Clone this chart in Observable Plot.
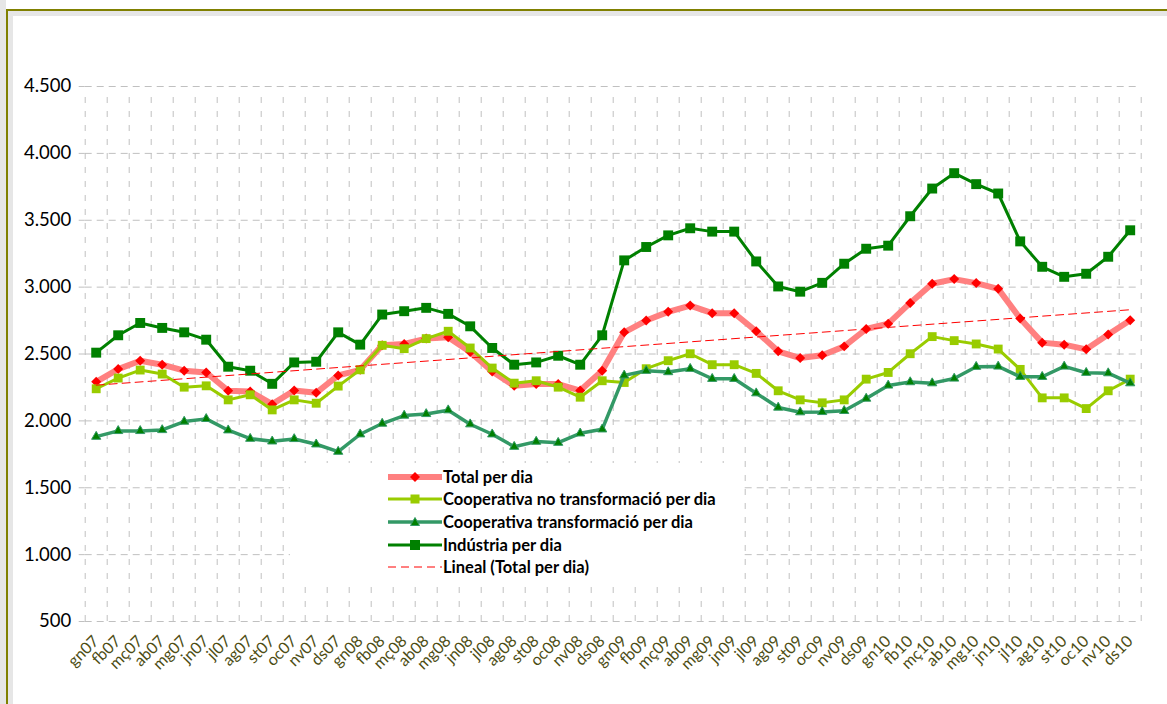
<!DOCTYPE html>
<html>
<head>
<meta charset="utf-8">
<script src="https://cdn.jsdelivr.net/npm/d3@7"></script>
<script src="https://cdn.jsdelivr.net/npm/@observablehq/plot@0.6"></script>
<style>
  body { margin: 0; background: #fff; }
  #wrap { position: relative; width: 1167px; height: 704px; overflow: hidden; background: #fff; font-family: Lato, "Noto Sans", sans-serif; }
  #chart { position: absolute; left: 0; top: 0; }
  .deco { position: absolute; z-index: 3; }
  #legend { position: absolute; left: 290px; top: 463px; width: 450px; height: 122px; background: #fff; z-index: 2; }
  .row { position: absolute; left: 98px; height: 22px; display: flex; align-items: center; white-space: nowrap; }
  .row span { font-weight: bold; font-size: 16.5px; color: #000; margin-left: 1px; }
</style>
</head>
<body>
<div id="wrap">
  <div id="chart"></div>
  <div class="deco" style="left:0;top:0;width:6px;height:704px;background:#e6e6e6"></div>
  <div class="deco" style="left:8px;top:11px;width:1159px;height:5px;background:#e6e6e6"></div>
  <div class="deco" style="left:8px;top:11px;width:5px;height:693px;background:#e6e6e6"></div>
  <div class="deco" style="left:6px;top:9px;width:1161px;height:2px;background:#808000"></div>
  <div class="deco" style="left:6px;top:9px;width:2px;height:695px;background:#808000"></div>
  <div id="legend"></div>
</div>
<script>
const months = ["gn07","fb07","mç07","ab07","mg07","jn07","jl07","ag07","st07","oc07","nv07","ds07",
  "gn08","fb08","mç08","ab08","mg08","jn08","jl08","ag08","st08","oc08","nv08","ds08",
  "gn09","fb09","mç09","ab09","mg09","jn09","jl09","ag09","st09","oc09","nv09","ds09",
  "gn10","fb10","mç10","ab10","mg10","jn10","jl10","ag10","st10","oc10","nv10","ds10"];

const total = [2292,2387,2450,2420,2375,2362,2225,2220,2125,2227,2210,2340,
  2382,2565,2575,2615,2625,2515,2370,2262,2275,2275,2227,2375,
  2662,2750,2815,2862,2805,2805,2670,2520,2470,2490,2557,2687,
  2727,2882,3025,3060,3030,2987,2765,2585,2570,2535,2645,2752];

const coopNoTransf = [2240,2320,2380,2350,2252,2262,2157,2195,2082,2157,2132,2260,
  2382,2565,2540,2615,2670,2545,2395,2282,2300,2252,2177,2300,
  2287,2390,2450,2502,2420,2420,2355,2225,2157,2135,2157,2312,
  2362,2502,2630,2600,2575,2537,2385,2172,2172,2092,2225,2312];

const coopTransf = [1882,1925,1925,1932,1995,2015,1930,1867,1847,1865,1825,1770,
  1900,1980,2040,2052,2080,1975,1900,1807,1845,1837,1907,1937,
  2340,2375,2365,2390,2315,2315,2207,2100,2065,2067,2075,2167,
  2265,2290,2282,2317,2405,2407,2330,2330,2407,2360,2357,2282];

const industria = [2510,2640,2732,2695,2662,2607,2405,2375,2277,2437,2442,2662,
  2570,2795,2820,2845,2800,2707,2545,2420,2437,2487,2420,2640,
  3200,3300,3387,3440,3415,3415,3192,3005,2966,3032,3175,3287,
  3310,3530,3737,3852,3770,3700,3342,3152,3077,3100,3227,3425];

const yTicks = [500,1000,1500,2000,2500,3000,3500,4000,4500];

const seriesNames = ["Total per dia","Cooperativa no transformació per dia","Cooperativa transformació per dia","Indústria per dia","Lineal (Total per dia)"];

const data = months.map((m, i) => ({i, m, total: total[i], coopNo: coopNoTransf[i], coopT: coopTransf[i], ind: industria[i]}));
const bounds = d3.range(months.length + 1).map(i => i - 0.5);

const fmt = d3.formatLocale({decimal: ",", thousands: ".", grouping: [3], currency: ["", "€"]}).format(",d");

const chart = Plot.plot({
  width: 1167,
  height: 704,
  marginLeft: 84.7,
  marginRight: 26.3,
  marginTop: 86,
  marginBottom: 83,
  x: {domain: [-0.5, months.length - 0.5]},
  y: {domain: [500, 4500]},
  style: {fontFamily: "Lato, 'Noto Sans', sans-serif", background: "transparent"},
  marks: [
    Plot.ruleY(yTicks, {stroke: "#c0c0c0", strokeDasharray: "7,5"}),
    Plot.ruleX(bounds, {y1: 500, y2: 4500, insetBottom: -6, stroke: "#c0c0c0", strokeDasharray: "6,8"}),
    Plot.axisY({ticks: yTicks, tickFormat: fmt, tickSize: 6, tickPadding: 8, stroke: "#c0c0c0", fill: "#000", fontSize: 18.5, label: null}),
    Plot.axisX({ticks: d3.range(months.length), tickFormat: i => months[i], tickRotate: -45, tickSize: 0, tickPadding: 17, fill: "#4d4d14", fontSize: 16, label: null}),
    Plot.line(data, {x: "i", y: "total", stroke: "#ff8080", strokeWidth: 6}),
    Plot.dot(data, {x: "i", y: "total", symbol: "diamond2", r: 4.5, fill: "#ff0000", stroke: "none"}),
    Plot.line(data, {x: "i", y: "coopNo", stroke: "#99cc00", strokeWidth: 3}),
    Plot.dot(data, {x: "i", y: "coopNo", symbol: "square", r: 5, fill: "#99cc00", stroke: "none"}),
    Plot.line(data, {x: "i", y: "coopT", stroke: "#339966", strokeWidth: 3.5}),
    Plot.dot(data, {x: "i", y: "coopT", symbol: "triangle", r: 3.4, fill: "#008000", stroke: "#339966", strokeWidth: 1}),
    Plot.line(data, {x: "i", y: "ind", stroke: "#008000", strokeWidth: 3}),
    Plot.dot(data, {x: "i", y: "ind", symbol: "square", r: 5.6, fill: "#008000", stroke: "none"}),
    Plot.linearRegressionY(data, {x: "i", y: "total", stroke: "#ff0000", strokeWidth: 1, strokeDasharray: "8,5", ci: 0})
  ]
});
document.getElementById("chart").appendChild(chart);

// legend
const legendSpecs = [
  {line: "#ff8080", lw: 6, marker: "diamond", fill: "#ff0000"},
  {line: "#99cc00", lw: 3, marker: "square", fill: "#99cc00", size: 9},
  {line: "#339966", lw: 3.5, marker: "triangle", fill: "#008000"},
  {line: "#008000", lw: 3, marker: "square", fill: "#008000", size: 10},
  {line: "#ff0000", lw: 1, dash: "8,5"}
];
const rowsY = [2.5, 25.3, 48, 70.7, 93.4];
const legend = document.getElementById("legend");
legendSpecs.forEach((s, k) => {
  const row = document.createElement("div");
  row.className = "row";
  row.style.top = rowsY[k] + "px";
  let mk = "";
  if (s.marker === "diamond") mk = `<path d="M27,2 L32,7 L27,12 L22,7 Z" fill="${s.fill}"/>`;
  if (s.marker === "square") mk = `<rect x="${27 - s.size/2}" y="${7 - s.size/2}" width="${s.size}" height="${s.size}" fill="${s.fill}"/>`;
  if (s.marker === "triangle") mk = `<path d="M27,2.5 L31.5,10.5 L22.5,10.5 Z" fill="${s.fill}" stroke="#339966" stroke-width="1"/>`;
  row.innerHTML = `<svg width="54" height="14" style="display:block"><line x1="0" x2="54" y1="7" y2="7" stroke="${s.line}" stroke-width="${s.lw}" ${s.dash ? `stroke-dasharray="${s.dash}"` : ""}/>${mk}</svg><span>${seriesNames[k]}</span>`;
  legend.appendChild(row);
});
</script>
</body>
</html>
